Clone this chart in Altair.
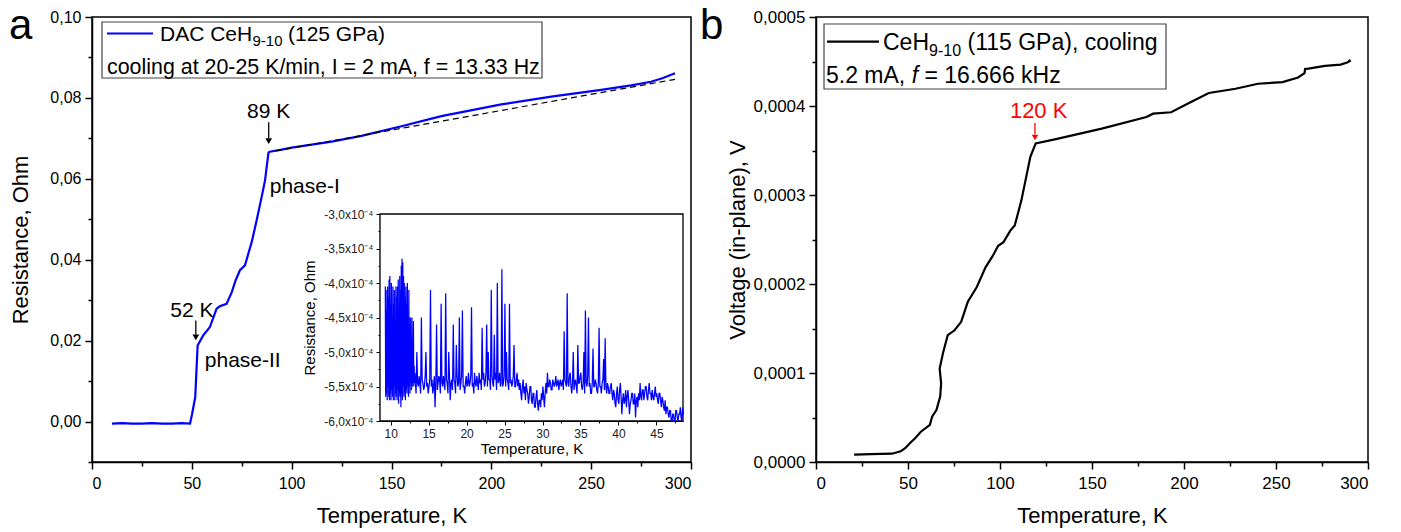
import altair as alt
import pandas as pd
import numpy as np

# ---------------- data ----------------
# panel a: main curve
T_a = [10, 15, 20, 25, 30, 35, 40, 45, 49.1, 50.1, 51.7, 52.9, 55.7, 59, 61, 62.4, 64, 67.4, 70, 72,
       74.1, 76.6, 78, 80, 82.5, 85, 86.7, 87.5, 88.4, 89, 95, 100, 120, 135, 155, 175, 205, 230,
       255, 270, 280, 286, 292]
R_a = [-0.0005, -0.0004, -0.0005, -0.0005, -0.0004, -0.0005, -0.0005, -0.0004, -0.0005, 0.0018,
       0.0060, 0.0188, 0.0213, 0.0233, 0.0260, 0.0279, 0.0285, 0.0291, 0.0320, 0.0350, 0.0374,
       0.0386, 0.0410, 0.0444, 0.0498, 0.0556, 0.0597, 0.0630, 0.0665, 0.0667, 0.0672, 0.0677,
       0.0692, 0.0706, 0.0730, 0.0755, 0.0784, 0.0803, 0.0820, 0.0831, 0.0840, 0.0849, 0.0861]
# panel a: dashed linear guide
T_fit = [92, 292]
R_fit = [0.0669, 0.0846]

# inset (units of 1e-4 Ohm)
# part 1: 9.30 K ... 13.20 K, every 0.05 K
R_in1 = [-4.05, -5.65, -4.1, -5.6, -4.4, -5.7, -4.05, -5.5, -4.2, -5.65,
         -3.95, -5.7, -3.9, -5.6, -4.3, -5.7, -4.0, -5.55, -4.5, -5.65,
         -4.05, -5.7, -4.3, -5.5, -4.1, -5.7, -4.6, -5.6, -4.05, -5.65,
         -4.2, -5.7, -4.05, -5.55, -3.95, -5.75, -4.4, -5.6, -3.9, -5.65,
         -4.1, -5.8, -3.75, -5.6, -3.65, -5.7, -3.7, -5.5, -3.9, -5.65,
         -4.0, -5.6, -4.2, -5.7, -4.05, -5.55, -4.3, -5.6, -4.0, -5.5,
         -4.5, -5.65, -4.1, -5.5, -4.6, -5.6, -4.5, -5.45, -5.0, -5.55,
         -4.5, -5.5, -5.1, -5.45, -4.55, -5.5, -5.2, -5.45, -5.3]
# part 2: 13.25 K ... 48.45 K, every 0.1 K
R_in2 = [
    -5.4, -5.6, -5.0, -5.45, -5.5, -5.35, -5.45, -5.6, -4.5, -5.4, -5.45, -5.55, -5.5, -5.35,
    -5.0, -5.5, -5.45, -5.6, -5.5, -5.4, -4.1, -5.5, -5.4, -5.6, -5.5, -5.35, -5.8, -5.45, -4.6,
    -5.55, -5.45, -5.35, -5.4, -5.6, -4.3, -5.45, -5.5, -5.35, -5.45, -5.55, -4.15, -5.4, -5.45,
    -5.6, -5.0, -5.35, -5.7, -5.45, -5.4, -5.55, -4.6, -5.4, -5.45, -5.6, -4.9, -5.35, -5.5,
    -5.45, -4.5, -5.55, -5.45, -5.35, -4.4, -5.5, -5.5, -5.6, -5.45, -5.35, -5.5, -5.45,
    -5.3, -5.5, -5.45, -5.35, -4.35, -5.5, -5.45, -5.6, -5.3, -5.45, -5.5, -5.35, -5.45, -5.55,
    -5.3, -5.45,
    -5.4, -5.55, -4.65, -5.4, -5.3, -5.5, -5.45, -5.3, -4.6, -5.5, -5.0, -5.4, -5.4, -5.55, -4.1,
    -5.35, -5.45, -5.5, -4.75, -5.4, -5.3, -5.55, -4.0, -5.45, -5.4, -5.3, -5.5, -5.45, -3.8, -5.5,
    -5.45, -5.35, -4.3, -5.5, -5.0, -5.4, -5.45, -5.55, -4.3, -5.45, -5.4, -5.5, -5.45, -5.35,
    -4.9, -5.5, -5.5, -5.4, -5.3, -5.5,
    -5.4, -5.55, -5.45, -5.6, -5.7, -5.5, -5.4, -5.6, -5.5, -5.7, -5.45, -5.55, -5.6, -5.75, -5.65,
    -5.5, -5.5, -5.7, -5.75, -5.6, -5.6, -5.8, -5.8, -5.65, -5.55, -5.75, -5.85, -5.7, -5.7, -5.8,
    -5.6, -5.7, -5.5, -5.65, -5.8, -5.6, -5.45, -5.6, -5.3, -5.5, -5.5, -5.4, -5.45, -5.55, -5.55,
    -5.4, -5.45, -5.5, -5.45, -5.35, -5.5, -5.45, -5.4, -5.55, -5.45, -5.4, -5.5, -5.45,
    -5.4, -5.55, -4.7, -5.4, -5.45, -5.5, -4.15, -5.45, -5.5, -5.35, -5.3, -5.5, -5.6, -5.45, -5.0,
    -5.55, -5.45, -5.4, -5.5, -5.6, -4.9, -5.45, -5.45, -5.35, -5.3, -5.5, -5.55, -5.45, -5.0,
    -5.6, -4.4, -5.45, -5.5, -5.35, -4.5, -5.5, -5.45, -5.6, -5.6, -5.45, -4.95, -5.5, -5.5, -5.4,
    -5.45, -5.55, -5.6, -5.45, -4.65, -5.5, -5.5, -5.6, -5.45, -5.4, -5.1, -5.55, -4.8, -5.5, -5.6,
    -5.45, -5.5, -5.6, -5.6, -5.5,
    -5.45, -5.6, -5.7, -5.55, -5.6, -5.75, -5.8, -5.6, -5.5, -5.7, -5.75, -5.55, -5.45, -5.65,
    -5.9, -5.7, -5.6, -5.75, -5.7, -5.55, -5.8, -5.65, -5.55, -5.7, -5.9, -5.75, -5.7, -5.6, -5.6,
    -5.75, -5.75, -5.6, -5.95, -5.7, -5.65, -5.8, -5.6, -5.7, -5.45, -5.65, -5.7, -5.55, -5.55,
    -5.7, -5.6, -5.5, -5.5, -5.65, -5.7, -5.55, -5.45, -5.6, -5.6, -5.7, -5.55, -5.65, -5.7, -5.6,
    -5.5, -5.65, -5.6, -5.7, -5.75, -5.6, -5.6, -5.7, -5.8, -5.65, -5.7, -5.8, -5.85, -5.7, -5.9,
    -5.8, -5.8, -5.9,
    -5.95, -5.85, -5.85, -6.0, -6.0, -5.9, -5.9, -6.0, -6.0, -5.85, -5.85, -5.95, -6.0, -5.9, -5.9,
    -5.8, -5.95, -6.0, -5.8, -5.9]
T_in = ([round(9.3 + 0.05 * i, 2) for i in range(len(R_in1))]
        + [round(13.25 + 0.1 * i, 2) for i in range(len(R_in2))])
R_in_e4 = R_in1 + R_in2

# panel b (voltage in units of 1e-6 V)
T_b = [20.7, 30, 41.3, 46, 48.6, 51, 54, 57, 61.9, 63.1, 65.5, 67.5, 68.0, 67.2, 69.2, 71.6, 75.3,
       78.9, 82.5, 87.4, 92.2, 95.9, 99, 101.9, 105.6, 108, 111.6, 116.5, 119.4, 131, 155.3, 179.6,
       183.2, 193, 203.8, 213.5, 228, 240.2, 253.6, 262, 265.5, 265.8, 267.6, 276.6, 285.1, 289,
       290, 290.5]
V_b_u = [8.2, 8.8, 9.3, 12, 15.7, 21, 27, 34, 41.8, 51, 58.6, 73.5, 88.4, 105, 124, 142.5, 148,
         157.5, 180, 196.6, 219, 231, 243, 247, 260, 265.7, 293.7, 343, 358, 363, 374.6, 387.7,
         391.4, 393, 404.5, 414.6, 419.4, 425, 426.9, 432, 437, 441.5, 442, 445, 446.5, 449,
         451, 449.5]

# tick values
xt_main = list(range(0, 301, 25))
yt_a = [round(-0.01 + 0.01 * i, 2) for i in range(12)]
yt_b = [round(0.00005 * i, 6) for i in range(11)]
xt_in = [10, 12.5, 15, 17.5, 20, 22.5, 25, 27.5, 30, 32.5, 35, 37.5, 40, 42.5, 45, 47.5]
yt_in = [round(-6.0e-4 + 0.25e-4 * i, 7) for i in range(13)]

# ---------------- layout (pixels inside the plotting canvas) ----------------
W, H = 1276, 445
A_X = [0, 599]
B_X = [724, 1276]
IN_X = [288, 591]
IN_Y = [404, 197]
FONT = "Liberation Sans"

df_a = pd.DataFrame({"T": T_a, "R": R_a, "i": range(len(T_a))})
df_fit = pd.DataFrame({"T": T_fit, "R": R_fit})
df_in = pd.DataFrame({"T": T_in, "R": [v * 1e-4 for v in R_in_e4]})
df_b = pd.DataFrame({"T": T_b, "V": [v * 1e-6 for v in V_b_u], "i": range(len(T_b))})
one = pd.DataFrame({"d": [0]})

def maj_tick(test, big=7, small=4):
    return {"condition": {"test": test, "value": big}, "value": small}

common_axis = dict(grid=False, domainColor="black", tickColor="black", domainWidth=1.5,
                   tickWidth=1.5, labelColor="black", titleColor="black", labelFont=FONT,
                   titleFont=FONT, titleFontWeight="normal")

# ---- panel a scales
sxa = alt.Scale(domain=[0, 300], range=A_X, nice=False, zero=False)
sya = alt.Scale(domain=[-0.01, 0.10], nice=False, zero=False)
ax_xa = alt.Axis(values=xt_main, title="Temperature, K", orient="bottom",
                 labelExpr="datum.value % 50 === 0 ? datum.label : ''",
                 tickSize=maj_tick("datum.value % 50 === 0"), labelFontSize=16, titleFontSize=22,
                 labelPadding=6, titlePadding=14, **common_axis)
ax_ya = alt.Axis(values=yt_a, title="Resistance, Ohm", orient="left",
                 labelExpr="(round(datum.value*100) % 2 === 0) ? replace(format(datum.value, '.2f'), '.', ',') : ''",
                 tickSize=maj_tick("round(datum.value*100) % 2 === 0"), labelFontSize=16,
                 titleFontSize=22, labelPadding=4, titlePadding=17, **common_axis)

xa = lambda: alt.X("T:Q", scale=sxa, axis=ax_xa)
ya = lambda: alt.Y("R:Q", scale=sya, axis=ax_ya)

a_line = alt.Chart(df_a).mark_line(color="#0000FF", strokeWidth=2.2).encode(
    x=xa(), y=ya(), order="i:Q")
a_fit = alt.Chart(df_fit).mark_line(color="black", strokeWidth=1.2, strokeDash=[6, 4]).encode(
    x=xa(), y=ya())

ann_a = pd.DataFrame({"T": [88.5, 50], "R": [0.0765, 0.0274], "txt": ["89 K", "52 K"]})
a_ann = alt.Chart(ann_a).mark_text(font=FONT, fontSize=21, align="center", baseline="middle",
                                   color="black").encode(x=xa(), y=ya(), text="txt:N")
ph_a = pd.DataFrame({"T": [89, 56.5], "R": [0.0580, 0.0150], "txt": ["phase-I", "phase-II"]})
a_ph = alt.Chart(ph_a).mark_text(font=FONT, fontSize=21, align="left", baseline="middle",
                                 color="black").encode(x=xa(), y=ya(), text="txt:N")
arr_a = pd.DataFrame({"T": [88.5, 52], "R": [0.0740, 0.0250], "R2": [0.0700, 0.0215]})
a_arr = alt.Chart(arr_a).mark_rule(color="black", strokeWidth=1.3).encode(
    x=xa(), y=ya(), y2="R2:Q")
tip_a = pd.DataFrame({"T": [88.5, 52], "R": [0.0693, 0.0208]})
a_tip = alt.Chart(tip_a).mark_point(shape="triangle-down", filled=True, color="black", size=45,
                                    opacity=1).encode(x=xa(), y=ya())
group_a = alt.layer(a_line, a_fit, a_ann, a_ph, a_arr, a_tip)

# ---- inset
sxi = alt.Scale(domain=[8.6, 48.5], range=IN_X, nice=False, zero=False)
syi = alt.Scale(domain=[-6.0e-4, -3.0e-4], range=IN_Y, nice=False, zero=False)
inset_axis = dict(grid=False, domainColor="black", tickColor="black", domainWidth=1.2,
                  tickWidth=1, labelColor="#222", titleColor="black", labelFont=FONT,
                  titleFont=FONT, titleFontWeight="normal")
ax_xi = alt.Axis(values=xt_in, title="Temperature, K", orient="bottom", offset=-(H - IN_Y[0]),
                 labelExpr="datum.value % 5 === 0 ? datum.label : ''",
                 tickSize=maj_tick("datum.value % 5 === 0", 4, 2), labelFontSize=12,
                 titleFontSize=15, labelPadding=3, titlePadding=2, **inset_axis)
ax_yi = alt.Axis(values=yt_in, title="Resistance, Ohm", orient="left", offset=-IN_X[0],
                 labelExpr="(abs(round(datum.value*1e6)) % 50 === 0) ? '-' + replace(format(abs(datum.value)*1e4, '.1f'), '.', ',') + 'x10⁻⁴' : ''",
                 tickSize=maj_tick("abs(round(datum.value*1e6)) % 50 === 0", 4, 2),
                 labelFontSize=12, titleFontSize=15, labelPadding=3, titlePadding=6, **inset_axis)
in_frame = alt.Chart(one).mark_rect(fill="white", stroke="black", strokeWidth=1.3).encode(
    x=alt.value(IN_X[0]), x2=alt.value(IN_X[1]), y=alt.value(IN_Y[1]), y2=alt.value(IN_Y[0]))
in_line = alt.Chart(df_in).mark_line(color="#0000FF", strokeWidth=1.25, clip=True).encode(
    x=alt.X("T:Q", scale=sxi, axis=ax_xi), y=alt.Y("R:Q", scale=syi, axis=ax_yi))
group_in = alt.layer(in_frame, in_line)

# ---- panel b
sxb = alt.Scale(domain=[0, 300], range=B_X, nice=False, zero=False)
syb = alt.Scale(domain=[0, 0.0005], nice=False, zero=False)
ax_xb = alt.Axis(values=xt_main, title="Temperature, K", orient="bottom",
                 labelExpr="datum.value % 50 === 0 ? datum.label : ''",
                 tickSize=maj_tick("datum.value % 50 === 0"), labelFontSize=17, titleFontSize=22,
                 labelPadding=6, titlePadding=14, **common_axis)
ax_yb = alt.Axis(values=yt_b, title="Voltage (in-plane), V", orient="left", offset=-B_X[0],
                 labelExpr="(round(datum.value*1e5) % 10 === 0) ? replace(format(datum.value, '.4f'), '.', ',') : ''",
                 tickSize=maj_tick("round(datum.value*1e5) % 10 === 0"), labelFontSize=17,
                 titleFontSize=22, labelPadding=4, titlePadding=4, **common_axis)
xb = lambda: alt.X("T:Q", scale=sxb, axis=ax_xb)
yb = lambda: alt.Y("V:Q", scale=syb, axis=ax_yb)
b_line = alt.Chart(df_b).mark_line(color="black", strokeWidth=2.2).encode(
    x=xb(), y=yb(), order="i:Q")
ann_b = pd.DataFrame({"T": [121], "V": [0.0003945], "txt": ["120 K"]})
b_ann = alt.Chart(ann_b).mark_text(font=FONT, fontSize=22, align="center", baseline="middle",
                                   color="#FF0000").encode(x=xb(), y=yb(), text="txt:N")
arr_b = pd.DataFrame({"T": [119], "V": [0.000381], "V2": [0.000368]})
b_arr = alt.Chart(arr_b).mark_rule(color="#FF0000", strokeWidth=1.3).encode(
    x=xb(), y=yb(), y2="V2:Q")
tip_b = pd.DataFrame({"T": [119], "V": [0.0003645]})
b_tip = alt.Chart(tip_b).mark_point(shape="triangle-down", filled=True, color="#FF0000", size=40,
                                    opacity=1).encode(x=xb(), y=yb())
group_b = alt.layer(b_line, b_ann, b_arr, b_tip)

# ---- decorations: frames, legends, panel letters
def rect(x0, x1, y0, y1, stroke="black", sw=1.5):
    return alt.Chart(one).mark_rect(fill=None, stroke=stroke, strokeWidth=sw).encode(
        x=alt.value(x0), x2=alt.value(x1), y=alt.value(y0), y2=alt.value(y1))

def txt(s, x, y, size, color="black", style="normal", align="left", baseline="alphabetic"):
    return alt.Chart(one).mark_text(text=s, font=FONT, fontSize=size, color=color,
                                    fontStyle=style, align=align, baseline=baseline).encode(
        x=alt.value(x), y=alt.value(y))

def hline(x0, x1, y, color, sw=2.2):
    return alt.Chart(one).mark_rule(color=color, strokeWidth=sw).encode(
        x=alt.value(x0), x2=alt.value(x1), y=alt.value(y))

deco = alt.layer(
    rect(A_X[0], A_X[1], 0, H),
    rect(B_X[0], B_X[1], 0, H),
    # legend a
    rect(10, 450, 5, 61, stroke="#444", sw=1.2),
    hline(15, 61, 16.5, "#0000FF"),
    txt("DAC CeH", 68, 24, 21),
    txt("9-10", 160.5, 29, 15),
    txt("(125 GPa)", 196, 24, 21),
    txt("cooling at 20-25 K/min, I = 2 mA, f = 13.33 Hz", 15, 57, 21.4),
    # legend b
    rect(732, 1074, 7, 72, stroke="#444", sw=1.2),
    hline(735, 787, 24.7, "black"),
    txt("CeH", 791, 33, 23),
    txt("9-10", 837, 38.5, 16),
    txt("(115 GPa), cooling", 875.5, 33, 23),
    txt("5.2 mA,", 734, 66, 23),
    txt("f", 819.7, 66, 23, style="italic"),
    txt("= 16.666 kHz", 832.5, 66, 23),
    # panel letters
    txt("a", -83, 22, 42),
    txt("b", 608, 22, 42),
)

chart = alt.layer(group_a, group_in, group_b, deco).resolve_scale(
    x="independent", y="independent"
).properties(
    width=W, height=H,
    padding={"left": 92, "top": 17, "right": 33, "bottom": 70},
    autosize=alt.AutoSizeParams(type="none"),
    background="white",
).configure_view(stroke=None)

chart.save("out.html", embed_options={"renderer": "svg", "actions": False})
